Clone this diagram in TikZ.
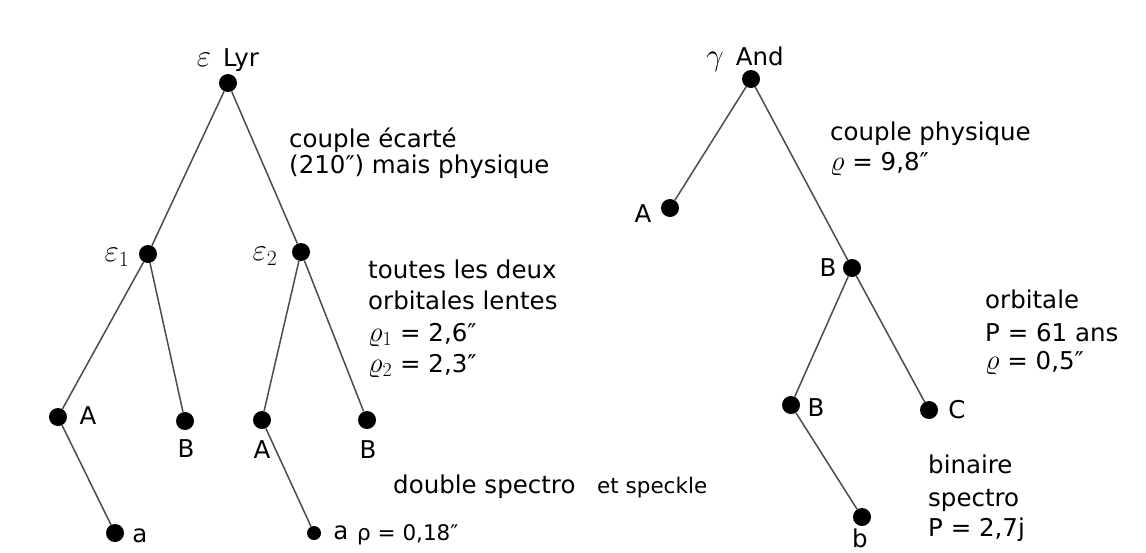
\documentclass[tikz,border=0pt]{standalone}
\usepackage{fontspec}
\setmainfont{DejaVu Sans}
\newcommand{\grk}[1]{\scalebox{1.25}{$#1$}}
\newcommand{\grr}[1]{\scalebox{1.15}{$#1$}}
\begin{document}
\begin{tikzpicture}[x=1pt,y=-1pt,
  dot/.style={circle,fill=black,inner sep=0pt,minimum size=18pt},
  sdot/.style={dot,minimum size=14pt},
  br/.style={draw=black!70,line width=1.5pt},
  lab/.style={font=\fontsize{24.5}{28}\selectfont,inner sep=0pt},
  txt/.style={lab,anchor=base west},
  smalltxt/.style={font=\fontsize{21.5}{24}\selectfont,inner sep=0pt,anchor=base west}]
\useasboundingbox[fill=white] (0,0) rectangle (1146,552);
% ---- epsilon Lyr tree
\node[dot] (r1) at (228,83) {};
\node[dot] (e1) at (148,254) {};
\node[dot] (e2) at (301,252) {};
\node[dot] (e1A) at (58,417) {};
\node[dot] (e1B) at (185,421) {};
\node[dot] (e2A) at (262,420) {};
\node[dot] (e2B) at (367,420) {};
\node[dot] (e1a) at (115,533) {};
\node[sdot] (e2a) at (314,533) {};
\draw[br] (r1) -- (e1);
\draw[br] (r1) -- (e2);
\draw[br] (e1) -- (e1A);
\draw[br] (e1) -- (e1B);
\draw[br] (e2) -- (e2A);
\draw[br] (e2) -- (e2B);
\draw[br] (e1A) -- (e1a);
\draw[br] (e2A) -- (e2a);
% labels
\node[lab,anchor=base] (lr1) at (228,66) {\grk{\varepsilon}\, Lyr};
\node[lab] (le1) at (117,257) {\grk{\varepsilon_1}};
\node[lab] (le2) at (265,256) {\grk{\varepsilon_2}};
\node[lab] (le1A) at (88,416) {A};
\node[lab] (le1B) at (186,449) {B};
\node[lab] (le2A) at (262,450) {A};
\node[lab] (le2B) at (368,450) {B};
\node[lab] (le1a) at (140,536) {a};
\node[lab] (le2a) at (341,533) {a};
\node[smalltxt] (rho) at (357,540) {ρ = 0,18″};
\node[txt] (c1) at (289,147) {couple écarté};
\node[txt] (c2) at (289,173) {(210″) mais physique};
\node[txt] (o1) at (368,278) {toutes les deux};
\node[txt] (o2) at (368,309) {orbitales lentes};
\node[txt] (o3) at (368,341) {\grr{\varrho_1} = 2,6″};
\node[txt] (o4) at (368,372) {\grr{\varrho_2} = 2,3″};
\node[txt] (d1) at (393,493) {double spectro};
\node[smalltxt] (d2) at (597,493) {et speckle};
% ---- gamma And tree
\node[dot] (r2) at (751,79) {};
\node[dot] (gA) at (670,208) {};
\node[dot] (gB) at (852,268) {};
\node[dot] (gBB) at (791,405) {};
\node[dot] (gC) at (929,410) {};
\node[dot] (gb) at (862,517) {};
\draw[br] (r2) -- (gA);
\draw[br] (r2) -- (gB);
\draw[br] (gB) -- (gBB);
\draw[br] (gB) -- (gC);
\draw[br] (gBB) -- (gb);
\node[lab,anchor=base] (lr2) at (745,65) {\grk{\gamma}\, And};
\node[lab] (lgA) at (643,214) {A};
\node[lab] (lgB) at (828,268) {B};
\node[lab] (lgBB) at (816,408) {B};
\node[lab] (lgC) at (957,410) {C};
\node[lab] (lgb) at (860,538) {b};
\node[txt] (p1) at (830,140) {couple physique};
\node[txt] (p2) at (830,170) {\grr{\varrho} = 9,8″};
\node[txt] (q1) at (985,308) {orbitale};
\node[txt] (q2) at (985,341) {P = 61 ans};
\node[txt] (q3) at (985,369) {\grr{\varrho} = 0,5″};
\node[txt] (s1) at (928,473) {binaire};
\node[txt] (s2) at (928,506) {spectro};
\node[txt] (s3) at (928,536) {P = 2,7j};
\end{tikzpicture}
\end{document}
